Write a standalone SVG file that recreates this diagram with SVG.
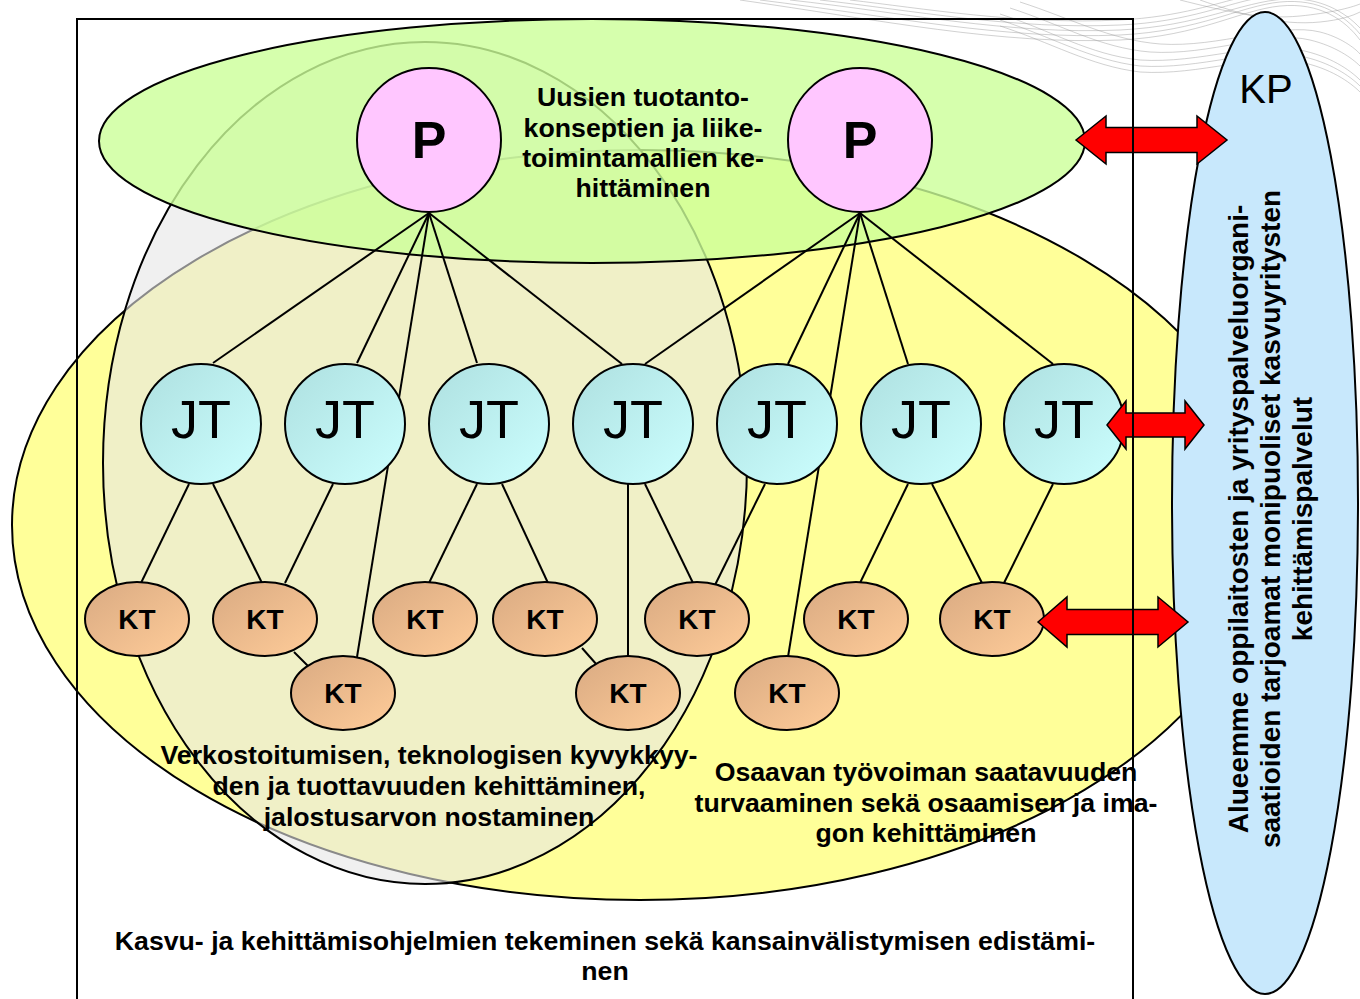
<svg xmlns="http://www.w3.org/2000/svg" width="1360" height="999" viewBox="0 0 1360 999">
<style>
.ol{stroke:#000;stroke-width:2}
.cn{stroke:#000;stroke-width:2;fill:none}
.t{font-family:"Liberation Sans",Arial,sans-serif;font-weight:bold;font-size:26.7px;text-anchor:middle;fill:#000}
.kt{font-family:"Liberation Sans",Arial,sans-serif;font-weight:bold;font-size:28px;text-anchor:middle}
.jt{font-family:"Liberation Sans",Arial,sans-serif;font-size:54px;text-anchor:middle}
.p{font-family:"Liberation Sans",Arial,sans-serif;font-weight:bold;font-size:52px;text-anchor:middle}
.sw{fill:none;stroke:#9a9a9a;stroke-width:1;opacity:0.45}
.arr{fill:#ff0000;stroke:#000;stroke-width:1.5;stroke-linejoin:miter}
</style>
<defs>
<linearGradient id="gJT" x1="0" y1="0" x2="1" y2="1"><stop offset="0" stop-color="#aee0e0"/><stop offset="1" stop-color="#ccffff"/></linearGradient>
<linearGradient id="gKT" x1="0" y1="0" x2="1" y2="1"><stop offset="0" stop-color="#d9aa82"/><stop offset="1" stop-color="#ffcc99"/></linearGradient>
</defs>
<rect x="0" y="0" width="1360" height="999" fill="#fff"/>
<g id="swirl">
<path class="sw" d="M740 0 C880 20 1000 45 1120 40 C1200 36 1240 10 1280 6 C1320 2 1345 20 1360 40"/>
<path class="sw" d="M760 0 C890 16 1005 40 1120 35 C1200 31 1240 6 1280 2 C1320 -2 1345 16 1360 34"/>
<path class="sw" d="M790 0 C900 12 1010 35 1120 30 C1200 26 1240 2 1285 -1 C1320 -3 1345 12 1360 28"/>
<path class="sw" d="M820 0 C910 10 1015 30 1120 25 C1190 22 1230 2 1260 -2"/>
<path class="sw" d="M850 0 C920 8 1020 25 1120 20 C1180 17 1220 2 1240 -2"/>
<path class="sw" d="M1000 14 C1050 30 1090 55 1140 60 C1200 64 1260 40 1300 50 C1330 56 1350 70 1360 80"/>
<path class="sw" d="M1000 20 C1050 36 1090 60 1140 66 C1200 70 1260 46 1300 56 C1330 62 1350 76 1360 86"/>
<path class="sw" d="M1000 26 C1050 42 1090 66 1140 72 C1200 76 1260 52 1300 62 C1330 68 1350 82 1360 92"/>
<path class="sw" d="M1010 8 C1060 24 1100 48 1150 52 C1210 56 1270 30 1310 40 C1335 46 1352 58 1360 66"/>
<path class="sw" d="M1020 2 C1070 18 1110 40 1160 44 C1220 48 1280 22 1320 32 C1340 37 1355 48 1360 54"/>
<path class="sw" d="M1180 0 C1220 10 1260 20 1300 16 C1330 13 1350 8 1360 4"/>
<path class="sw" d="M1200 0 C1240 14 1280 26 1320 22 C1340 20 1352 16 1360 12"/>
</g>
<g id="areas">
<ellipse id="yellow-area" cx="640" cy="525" rx="628" ry="375" fill="#ffff99" class="ol"/>
<ellipse id="gray-area" cx="425" cy="463" rx="322" ry="421" fill="#e6e6e6" fill-opacity="0.6" class="ol"/>
<ellipse id="green-area" cx="592" cy="141" rx="493" ry="122" fill="#ccff99" fill-opacity="0.8" class="ol"/>
</g>
<g id="connectors">
<line class="cn" x1="429" y1="213" x2="213" y2="363"/>
<line class="cn" x1="429" y1="213" x2="357" y2="363"/>
<line class="cn" x1="429" y1="213" x2="357" y2="657"/>
<line class="cn" x1="429" y1="213" x2="477" y2="363"/>
<line class="cn" x1="429" y1="213" x2="622" y2="364"/>
<line class="cn" x1="860" y1="213" x2="645" y2="364"/>
<line class="cn" x1="860" y1="213" x2="788" y2="364"/>
<line class="cn" x1="860" y1="213" x2="788" y2="657"/>
<line class="cn" x1="860" y1="213" x2="908" y2="364"/>
<line class="cn" x1="860" y1="213" x2="1053" y2="364"/>
<line class="cn" x1="189" y1="484" x2="141" y2="583"/>
<line class="cn" x1="213" y1="484" x2="262" y2="583"/>
<line class="cn" x1="333" y1="484" x2="285" y2="583"/>
<line class="cn" x1="294" y1="652" x2="309" y2="667"/>
<line class="cn" x1="477" y1="484" x2="429" y2="583"/>
<line class="cn" x1="502" y1="484" x2="548" y2="583"/>
<line class="cn" x1="582" y1="648" x2="597" y2="665"/>
<line class="cn" x1="628" y1="484" x2="628" y2="656"/>
<line class="cn" x1="645" y1="484" x2="693" y2="583"/>
<line class="cn" x1="765" y1="484" x2="715" y2="585"/>
<line class="cn" x1="908" y1="484" x2="860" y2="583"/>
<line class="cn" x1="932" y1="484" x2="982" y2="583"/>
<line class="cn" x1="1053" y1="484" x2="1004" y2="583"/>
</g>
<g id="P1"><circle cx="429" cy="140" r="72" fill="#ffc6ff" class="ol"/><text class="p" x="429" y="158">P</text></g>
<g id="P2"><circle cx="860" cy="140" r="72" fill="#ffc6ff" class="ol"/><text class="p" x="860" y="158">P</text></g>
<g id="JT1"><circle cx="201" cy="424" r="60" fill="url(#gJT)" class="ol"/><text class="jt" x="201" y="438">JT</text></g>
<g id="JT2"><circle cx="345" cy="424" r="60" fill="url(#gJT)" class="ol"/><text class="jt" x="345" y="438">JT</text></g>
<g id="JT3"><circle cx="489" cy="424" r="60" fill="url(#gJT)" class="ol"/><text class="jt" x="489" y="438">JT</text></g>
<g id="JT4"><circle cx="633" cy="424" r="60" fill="url(#gJT)" class="ol"/><text class="jt" x="633" y="438">JT</text></g>
<g id="JT5"><circle cx="777" cy="424" r="60" fill="url(#gJT)" class="ol"/><text class="jt" x="777" y="438">JT</text></g>
<g id="JT6"><circle cx="921" cy="424" r="60" fill="url(#gJT)" class="ol"/><text class="jt" x="921" y="438">JT</text></g>
<g id="JT7"><circle cx="1064" cy="424" r="60" fill="url(#gJT)" class="ol"/><text class="jt" x="1064" y="438">JT</text></g>
<g id="KT1"><ellipse cx="137" cy="619" rx="52" ry="37" fill="url(#gKT)" class="ol"/><text class="kt" x="137" y="629">KT</text></g>
<g id="KT2"><ellipse cx="265" cy="619" rx="52" ry="37" fill="url(#gKT)" class="ol"/><text class="kt" x="265" y="629">KT</text></g>
<g id="KT3"><ellipse cx="425" cy="619" rx="52" ry="37" fill="url(#gKT)" class="ol"/><text class="kt" x="425" y="629">KT</text></g>
<g id="KT4"><ellipse cx="545" cy="619" rx="52" ry="37" fill="url(#gKT)" class="ol"/><text class="kt" x="545" y="629">KT</text></g>
<g id="KT5"><ellipse cx="697" cy="619" rx="52" ry="37" fill="url(#gKT)" class="ol"/><text class="kt" x="697" y="629">KT</text></g>
<g id="KT6"><ellipse cx="856" cy="619" rx="52" ry="37" fill="url(#gKT)" class="ol"/><text class="kt" x="856" y="629">KT</text></g>
<g id="KT7"><ellipse cx="992" cy="619" rx="52" ry="37" fill="url(#gKT)" class="ol"/><text class="kt" x="992" y="629">KT</text></g>
<g id="KT8"><ellipse cx="343" cy="693" rx="52" ry="37" fill="url(#gKT)" class="ol"/><text class="kt" x="343" y="703">KT</text></g>
<g id="KT9"><ellipse cx="628" cy="693" rx="52" ry="37" fill="url(#gKT)" class="ol"/><text class="kt" x="628" y="703">KT</text></g>
<g id="KT10"><ellipse cx="787" cy="693" rx="52" ry="37" fill="url(#gKT)" class="ol"/><text class="kt" x="787" y="703">KT</text></g>
<g id="label-green">
<text class="t" x="643" y="106">Uusien tuotanto-</text>
<text class="t" x="643" y="137">konseptien ja liike-</text>
<text class="t" x="643" y="167">toimintamallien ke-</text>
<text class="t" x="643" y="197">hittäminen</text>
</g>
<g id="label-gray">
<text class="t" x="429" y="764">Verkostoitumisen, teknologisen kyvykkyy-</text>
<text class="t" x="429" y="795">den ja tuottavuuden kehittäminen,</text>
<text class="t" x="429" y="826">jalostusarvon nostaminen</text>
</g>
<g id="label-yellow">
<text class="t" x="926" y="781">Osaavan työvoiman saatavuuden</text>
<text class="t" x="926" y="812">turvaaminen sekä osaamisen ja ima-</text>
<text class="t" x="926" y="842">gon kehittäminen</text>
</g>
<g id="label-frame">
<text class="t" x="605" y="950">Kasvu- ja kehittämisohjelmien tekeminen sekä kansainvälistymisen edistämi-</text>
<text class="t" x="605" y="980">nen</text>
</g>
<g id="KP">
<ellipse cx="1265" cy="503" rx="93" ry="491" fill="#c8e8fc" class="ol"/>
<text x="1266" y="103" style="font-family:'Liberation Sans',Arial,sans-serif;font-size:40px;text-anchor:middle">KP</text>
<text class="t" style="font-size:28px" transform="translate(1248 519) rotate(-90)">Alueemme oppilaitosten ja yrityspalveluorgani-</text>
<text class="t" style="font-size:28px" transform="translate(1280 519) rotate(-90)">saatioiden tarjoamat monipuoliset kasvuyritysten</text>
<text class="t" style="font-size:28px" transform="translate(1312 519) rotate(-90)">kehittämispalvelut</text>
</g>
<g id="arrows">
<path class="arr" d="M1076 140 L1106 116 L1106 127.5 L1197 127.5 L1197 116 L1227 140 L1197 164 L1197 152.5 L1106 152.5 L1106 164 Z"/>
<path class="arr" d="M1107 425 L1126 401 L1126 413 L1185 413 L1185 401 L1204 425 L1185 449 L1185 437 L1126 437 L1126 449 Z"/>
<path class="arr" d="M1038 622 L1067 597 L1067 609.5 L1158 609.5 L1158 597 L1188 622 L1158 647 L1158 634.5 L1067 634.5 L1067 647 Z"/>
</g>
<rect id="frame" x="77" y="19" width="1056" height="1000" fill="none" stroke="#000" stroke-width="2"/>
</svg>
